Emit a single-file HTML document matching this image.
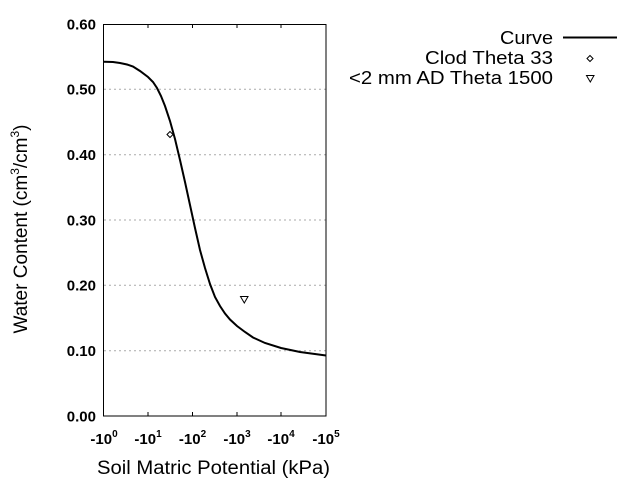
<!DOCTYPE html>
<html><head><meta charset="utf-8"><style>
html,body{margin:0;padding:0;background:#fff;}
svg text{font-family:"Liberation Sans",sans-serif;fill:#000;}
</style></head><body>
<svg width="640" height="480" viewBox="0 0 640 480" xmlns="http://www.w3.org/2000/svg">
<g stroke="#aaa" stroke-width="1" stroke-dasharray="2,3">
<line x1="104" y1="89.3" x2="326" y2="89.3"/>
<line x1="104" y1="154.7" x2="326" y2="154.7"/>
<line x1="104" y1="220" x2="326" y2="220"/>
<line x1="104" y1="285.3" x2="326" y2="285.3"/>
<line x1="104" y1="350.7" x2="326" y2="350.7"/>
</g>
<rect x="103.5" y="24.5" width="222.5" height="391.5" fill="none" stroke="#000" stroke-width="1"/>
<g stroke="#000" stroke-width="1">
<line x1="148" y1="416" x2="148" y2="412"/><line x1="192.5" y1="416" x2="192.5" y2="412"/><line x1="237" y1="416" x2="237" y2="412"/><line x1="281" y1="416" x2="281" y2="412"/>
<line x1="148" y1="24" x2="148" y2="28"/><line x1="192.5" y1="24" x2="192.5" y2="28"/><line x1="237" y1="24" x2="237" y2="28"/><line x1="281" y1="24" x2="281" y2="28"/>
</g>
<polyline fill="none" stroke="#000" stroke-width="2" points="104,61.7 113,62 120,63 127,64.5 133,66.5 140,71 148,77 153,82 157,88 161,96 165,106 170,121 175,139 180,160 185,182 190,205 195,228 200,250 205,268 210,284 215,297 220,306 225,313.5 230,319.5 237,326 245,332 253,337.5 265,343 281,348 300,352 326,355.5"/>
<path d="M170,131.5 L173,134.5 L170,137.5 L167,134.5 Z" fill="none" stroke="#000" stroke-width="1"/>
<path d="M240.5,296.5 L248,296.5 L244.3,303 Z" fill="none" stroke="#000" stroke-width="1"/>
<g font-size="15" font-weight="bold" text-anchor="end">
<text x="96" y="29.5">0.60</text><text x="96" y="94.5">0.50</text><text x="96" y="160">0.40</text><text x="96" y="225.5">0.30</text><text x="96" y="290.5">0.20</text><text x="96" y="356">0.10</text><text x="96" y="421.5">0.00</text>
</g>
<g font-size="15" font-weight="bold" text-anchor="middle">
<text x="104" y="444">-10<tspan font-size="10" dy="-7">0</tspan></text>
<text x="148" y="444">-10<tspan font-size="10" dy="-7">1</tspan></text>
<text x="192.5" y="444">-10<tspan font-size="10" dy="-7">2</tspan></text>
<text x="237" y="444">-10<tspan font-size="10" dy="-7">3</tspan></text>
<text x="281" y="444">-10<tspan font-size="10" dy="-7">4</tspan></text>
<text x="326" y="444">-10<tspan font-size="10" dy="-7">5</tspan></text>
</g>
<text x="97" y="474" font-size="19" textLength="233" lengthAdjust="spacingAndGlyphs">Soil Matric Potential (kPa)</text>
<text transform="translate(27,229) rotate(-90)" font-size="19" text-anchor="middle">Water Content (cm<tspan font-size="12" dy="-8">3</tspan><tspan dy="8">/cm</tspan><tspan font-size="12" dy="-8">3</tspan><tspan dy="8">)</tspan></text>
<g font-size="18">
<text x="500" y="44" textLength="53" lengthAdjust="spacingAndGlyphs">Curve</text>
<text x="425" y="64" textLength="128" lengthAdjust="spacingAndGlyphs">Clod Theta 33</text>
<text x="349" y="84" textLength="204" lengthAdjust="spacingAndGlyphs">&lt;2 mm AD Theta 1500</text>
</g>
<line x1="563" y1="37.5" x2="617" y2="37.5" stroke="#000" stroke-width="2"/>
<path d="M590,55.5 L593,58.5 L590,61.5 L587,58.5 Z" fill="none" stroke="#000" stroke-width="1"/>
<path d="M586.5,75.5 L594,75.5 L590.3,82 Z" fill="none" stroke="#000" stroke-width="1"/>
</svg>
</body></html>
